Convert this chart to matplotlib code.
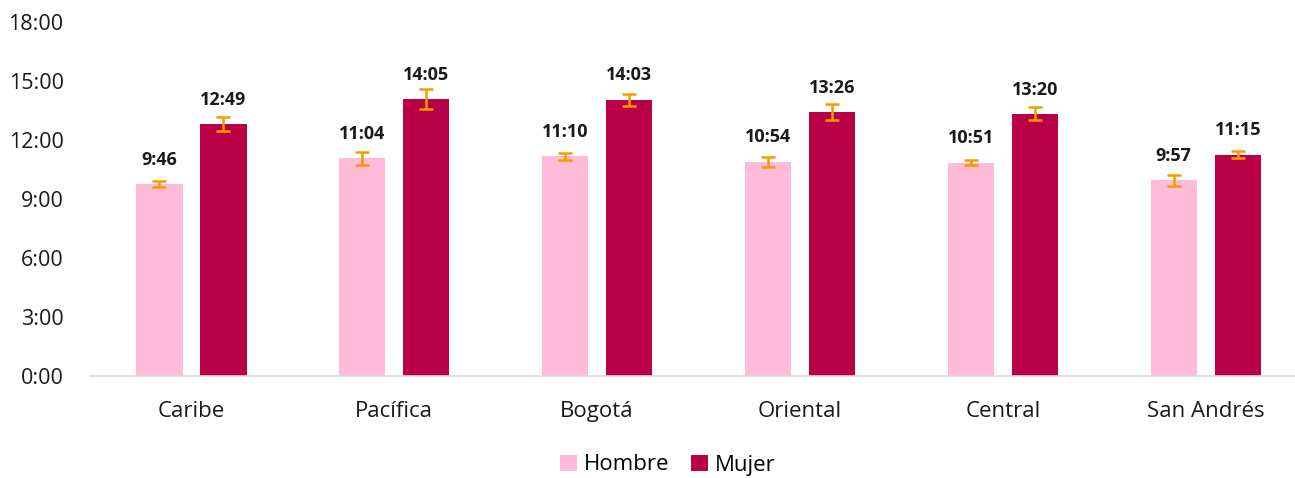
import matplotlib
matplotlib.use("Agg")
import matplotlib.pyplot as plt
from matplotlib.ticker import FuncFormatter, MultipleLocator
import numpy as np

plt.rcParams['font.family'] = ['Open Sans', 'DejaVu Sans']

categories = ["Caribe", "Pacífica", "Bogotá", "Oriental", "Central", "San Andrés"]
hombre_labels = ["9:46", "11:04", "11:10", "10:54", "10:51", "9:57"]
mujer_labels = ["12:49", "14:05", "14:03", "13:26", "13:20", "11:15"]
hombre_err = [0.17, 0.32, 0.16, 0.25, 0.13, 0.28]
mujer_err = [0.36, 0.49, 0.31, 0.40, 0.33, 0.19]

def to_hours(s):
    h, m = s.split(":")
    return int(h) + int(m) / 60.0

hombre = [to_hours(s) for s in hombre_labels]
mujer = [to_hours(s) for s in mujer_labels]

c_h = "#FFBBD8"
c_m = "#BA0047"
c_err = "#F59B00"

fig = plt.figure(figsize=(12.95, 4.78), dpi=100)
ax = fig.add_axes([90/1295, 1-376/478, 1-90/1295, (376-22)/478])

x = np.arange(len(categories))
w = 0.228
off = 0.158
ek = dict(ecolor=c_err, elinewidth=1.8, capsize=5, capthick=1.8)
b1 = ax.bar(x - off, hombre, w, color=c_h, yerr=hombre_err, error_kw=ek, label="Hombre")
b2 = ax.bar(x + off, mujer, w, color=c_m, yerr=mujer_err, error_kw=ek, label="Mujer")

for xi, v, t in zip(x - off, hombre, hombre_labels):
    ax.annotate(t, (xi, v), xytext=(0, 11), textcoords="offset points",
                ha="center", va="bottom", fontsize=13, fontweight="bold", color="#1a1a1a")
for xi, v, t in zip(x + off, mujer, mujer_labels):
    ax.annotate(t, (xi, v), xytext=(0, 11), textcoords="offset points",
                ha="center", va="bottom", fontsize=13, fontweight="bold", color="#1a1a1a")

ax.set_ylim(0, 18)
ax.yaxis.set_major_locator(MultipleLocator(3))
ax.yaxis.set_major_formatter(FuncFormatter(lambda v, p: f"{int(v)}:00"))
ax.set_xlim(-0.5, 5.44)
ax.set_xticks(x)
ax.set_xticklabels(categories)
ax.tick_params(axis="both", length=0, colors="#1a1a1a")
ax.tick_params(axis="x", pad=18, labelsize=16)
ax.tick_params(axis="y", pad=19, labelsize=15.5)
for s in ["top", "right", "left"]:
    ax.spines[s].set_visible(False)
ax.spines["bottom"].set_color("#D9D9D9")
ax.spines["bottom"].set_linewidth(1.2)

fig.legend(handles=[b1, b2], labels=["Hombre", "Mujer"], loc="center",
           bbox_to_anchor=(668/1295, 1-465/478), ncol=2, frameon=False, fontsize=16,
           handlelength=0.75, handleheight=0.75, handletextpad=0.3, columnspacing=1.0)

fig.savefig("out.png", dpi=100)
